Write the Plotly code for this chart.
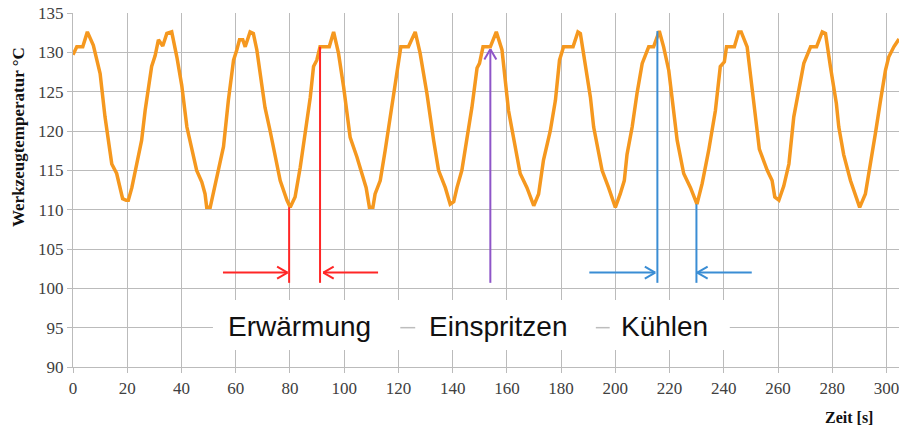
import plotly.graph_objects as go
import math

# ---------------- data ----------------
time_s = [0, 1.4, 3.6, 5.3, 7.5, 10, 11.8, 14.3, 16.1, 18.3, 19.6, 20.4, 21.7, 23.5, 25.3, 26.6, 27.8, 29,
          30.3, 31.5, 33.1, 34.6, 36.4, 38.3, 40.1, 42, 45.6, 47.5, 48.7, 49.3, 50.6, 51.8, 53.6, 55.5, 57.3,
          59.2, 60.4, 61.4, 62.6, 63.5, 65.3, 66.5, 67.8, 69, 70.8, 72.7, 74.5, 76.4, 78.9, 80.1, 81.9, 83.8,
          85.6, 87.5, 88.7, 89.9, 91.1, 94.5, 96.1, 97.9, 99.8, 102.2, 104.7, 106.5, 108.1, 109.3, 110.6,
          111.4, 113.3, 115.1, 117, 118.8, 119.7, 120.9, 123.7, 126.2, 128, 130.5, 133, 134.8, 137.3, 139.1,
          140.4, 141.6, 143.4, 145.3, 147.1, 149, 149.9, 151.2, 153.9, 156.1, 158.2, 160.6, 162.5, 164.9,
          167.4, 169.9, 171.7, 173.5, 176, 177.9, 179.4, 180.9, 184.4, 186.2, 187.1, 188.6, 190.8, 192,
          195.1, 197.5, 200, 201.8, 203.3, 204.3, 206.2, 208, 209.9, 212.3, 214.1, 216.2, 217.8, 219.7,
          222.8, 225.2, 227.7, 230.1, 232, 234.4, 236.9, 238.7, 240.2, 241, 243.9, 245.5, 246.4, 248.6,
          251, 253.1, 256, 257.8, 258.8, 260.3, 262.1, 264, 265.8, 267.6, 269.5, 272, 274.2, 276.3, 277.5,
          279.3, 281.5, 282.4, 284.2, 286.7, 290.1, 292.2, 294.1, 295.9, 297.8, 299.6, 300.8, 302.7, 304.6]
temp_c = [129.7, 130.7, 130.7, 132.6, 130.9, 127.3, 121.8, 115.8, 114.6, 111.4, 111.2, 111.2, 112.8, 115.8,
          118.8, 122.6, 125.2, 128.2, 129.6, 131.6, 130.8, 132.4, 132.6, 129.4, 125.8, 120.5, 115, 113.5,
          112, 110.3, 110.3, 112.2, 114.6, 118, 123.9, 129, 130.3, 131.6, 131.6, 130.7, 132.6, 132.4, 130.3,
          127.3, 123, 120, 116.7, 113.7, 111.2, 110.3, 111.6, 115.4, 119.7, 124.3, 128.2, 129, 130.7, 130.7,
          132.6, 129.9, 125.6, 119.2, 116.7, 114.6, 112.8, 110.3, 110.3, 112, 113.7, 117.5, 121.8, 126,
          128.2, 130.7, 130.7, 132.6, 129.9, 124.8, 118.8, 115, 112.8, 110.7, 111, 112.8, 115, 118.8, 123,
          128, 128.6, 130.7, 130.7, 132.6, 130.3, 122.6, 119.2, 114.6, 112.8, 110.5, 112, 116.3, 120, 123.9,
          129, 130.7, 130.7, 132.6, 132.4, 129.2, 124.3, 120.5, 115, 112.8, 110.3, 112, 113.7, 117, 120.5,
          124.8, 128.6, 130.7, 130.7, 132.7, 130.7, 127.7, 118.8, 114.6, 112.8, 110.7, 113.3, 117.5, 122.6,
          128.2, 128.8, 130.7, 130.7, 132.6, 132.6, 130.7, 123.9, 117.7, 115, 113.7, 111.6, 111.2, 113,
          115.8, 121.8, 125.4, 128.6, 130.7, 130.7, 132.6, 132.4, 128.2, 123.5, 120.5, 117, 113.7, 110.3,
          112, 115.8, 119.7, 123.9, 127.7, 129.4, 130.7, 131.7]

x_ticks = [0, 20, 40, 60, 80, 100, 120, 140, 160, 180, 200, 220, 240, 260, 280, 300]
y_ticks = [90, 95, 100, 105, 110, 115, 120, 125, 130, 135]

legend_labels = ["Erwärmung", "Einspritzen", "Kühlen"]
legend_x = [83.7, 157.0, 218.3]
legend_sep_x = [(120.7, 126.2), (192.8, 197.9)]

bar_bottom = 100.7
bars = [  # (x, top, color)
    (79.7, 110.3, "#FF2626"),
    (91.1, 130.7, "#FF2626"),
    (215.5, 132.7, "#3A8DD4"),
    (229.9, 110.7, "#3A8DD4"),
]
arrows = [  # (x0, y0, x1, y1, color) head at (x1, y1)
    (55.3, 102.0, 79.1, 102.0, "#FF2626"),
    (112.5, 102.0, 92.3, 102.0, "#FF2626"),
    (153.9, 100.7, 153.9, 130.4, "#8E55C8"),
    (190.4, 102.0, 214.7, 102.0, "#3A8DD4"),
    (250.3, 102.0, 230.2, 102.0, "#3A8DD4"),
]

# ---------------- layout geometry ----------------
W, H = 899, 428
ML, MR, MT, MB = 73, 0, 13, 61
XR = [0, 304.6]
YR = [90, 135]
pxx = (W - ML - MR) / (XR[1] - XR[0])
pxy = (H - MT - MB) / (YR[1] - YR[0])

SERIF = "Liberation Serif"

fig = go.Figure()

# legend box (white, above grid)
fig.add_shape(type="rect", xref="x", yref="y", x0=51.6, x1=242.2, y0=92.16, y1=98.52,
              fillcolor="white", line=dict(width=0), layer="between")
for a, b in legend_sep_x:
    fig.add_shape(type="line", xref="x", yref="y", x0=a, x1=b, y0=95, y1=95,
                  line=dict(color="#BDBDBD", width=1.5), layer="between")
for lab, lx in zip(legend_labels, legend_x):
    fig.add_annotation(x=lx, y=95.2, xref="x", yref="y", text=lab, showarrow=False,
                       font=dict(family="Liberation Sans", size=28, color="#111111"),
                       xanchor="center", yanchor="middle")

# temperature curve
fig.add_trace(go.Scatter(x=time_s, y=temp_c, mode="lines",
                         line=dict(color="#F5981F", width=3.5), showlegend=False,
                         hoverinfo="skip"))

# bars (vertical lines)
for bx, top, col in bars:
    fig.add_trace(go.Scatter(x=[bx, bx], y=[bar_bottom, top], mode="lines",
                             line=dict(color=col, width=2), showlegend=False, hoverinfo="skip"))

# arrows with open chevron heads
HL = 12.0
ANG = math.radians(30)
for x0, y0, x1, y1, col in arrows:
    dxp = (x1 - x0) * pxx
    dyp = (y1 - y0) * pxy
    L = math.hypot(dxp, dyp)
    ux, uy = dxp / L, dyp / L
    xs = [x0, x1, None]
    ys = [y0, y1, None]
    for s in (1, -1):
        c, si = math.cos(s * ANG), math.sin(s * ANG)
        rx = -(ux * c - uy * si) * HL
        ry = -(ux * si + uy * c) * HL
        xs += [x1 + rx / pxx, x1, None]
        ys += [y1 + ry / pxy, y1, None]
    fig.add_trace(go.Scatter(x=xs, y=ys, mode="lines", line=dict(color=col, width=2),
                             showlegend=False, hoverinfo="skip"))

# axis titles
fig.add_annotation(x=(18 - ML) / (W - ML - MR), y=(H - MB - 137) / (H - MT - MB),
                   xref="paper", yref="paper", text="<b>Werkzeugtemperatur °C</b>",
                   textangle=-90, showarrow=False,
                   font=dict(family=SERIF, size=17, color="#111111"),
                   xanchor="center", yanchor="middle")
fig.add_annotation(x=(849 - ML) / (W - ML - MR), y=(H - MB - 417) / (H - MT - MB),
                   xref="paper", yref="paper", text="<b>Zeit [s]</b>", showarrow=False,
                   font=dict(family=SERIF, size=16, color="#111111"),
                   xanchor="center", yanchor="middle")

axis_common = dict(showgrid=True, gridcolor="#BBBBBB", gridwidth=1.3, zeroline=False,
                   showline=True, linecolor="#BBBBBB", linewidth=1.3,
                   ticks="outside", ticklen=5, tickcolor="#BBBBBB", tickwidth=1.3,
                   automargin=False, ticklabeloverflow="allow",
                   tickfont=dict(family=SERIF, size=17, color="#404040"))
fig.update_xaxes(range=XR, tickvals=x_ticks, ticktext=[str(v) for v in x_ticks], **axis_common)
fig.update_yaxes(range=YR, tickvals=y_ticks, ticktext=[str(v) for v in y_ticks], **axis_common)

fig.update_layout(width=W, height=H, margin=dict(l=ML, r=MR, t=MT, b=MB, autoexpand=False),
                  plot_bgcolor="white", paper_bgcolor="white", showlegend=False)

fig.write_html("out.html", config={"displayModeBar": False},
               post_script="document.body.style.margin='0';document.body.style.padding='0';"
                           "document.body.style.overflow='hidden';")
